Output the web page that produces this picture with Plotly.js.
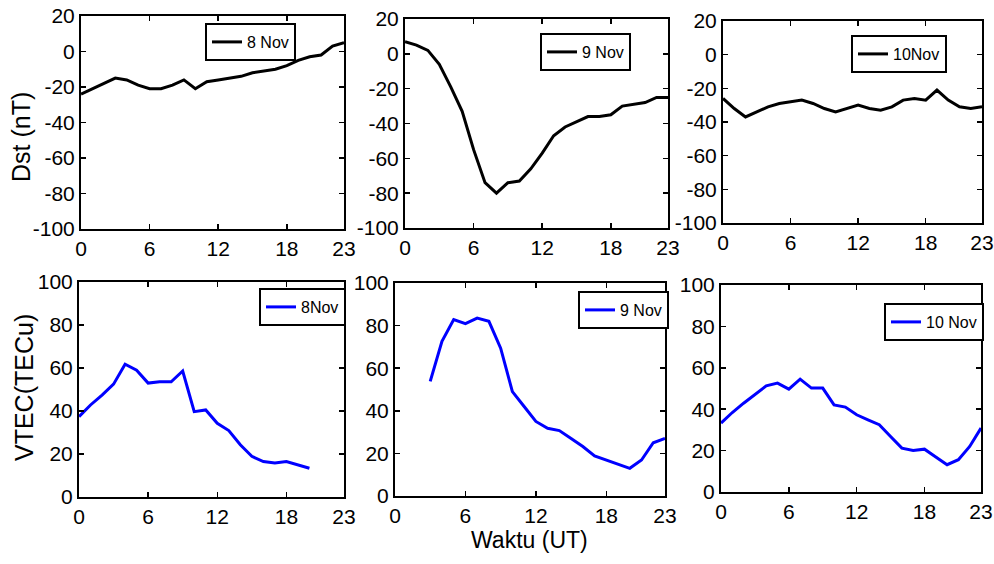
<!DOCTYPE html>
<html><head><meta charset="utf-8">
<script src="https://cdn.plot.ly/plotly-3.0.1.min.js"></script>
<style>html,body{margin:0;padding:0;background:#fff}</style>
</head><body><div id="chart" style="width:994px;height:564px"></div>
<script>
// ---- data ----
const hours = [0,1,2,3,4,5,6,7,8,9,10,11,12,13,14,15,16,17,18,19,20,21,22,23];
const dst8  = [-24,-21,-18,-15,-16,-19,-21,-21,-19,-16,-21,-17,-16,-15,-14,-12,-11,-10,-8,-5,-3,-2,3,5];
const dst9  = [7,5,2,-6,-19,-33,-55,-74,-80,-74,-73,-66,-57,-47,-42,-39,-36,-36,-35,-30,-29,-28,-25,-25];
const dst10 = [-26,-32,-37,-34,-31,-29,-28,-27,-29,-32,-34,-32,-30,-32,-33,-31,-27,-26,-27,-21,-27,-31,-32,-31];
const hoursV8 = [0,1,2,3,4,5,6,7,8,9,10,11,12,13,14,15,16,17,18,19,20];
const vtec8 = [37.4,42.8,47.4,52.5,61.8,59,53,53.6,53.6,58.6,39.7,40.5,34.3,30.9,24.3,18.9,16.5,15.8,16.5,15,13.4];
const hoursV9 = [3,4,5,6,7,8,9,10,11,12,13,14,15,16,17,18,19,20,21,22,23];
const vtec9 = [53.8,72.6,82.8,80.9,83.5,82,69.4,49,42,35,31.8,30.7,27,23.2,18.8,16.9,15,13,16.9,25,27];
const vtec10 = [33.3,38.4,42.9,46.9,51.3,52.6,49.7,54.5,50.2,50.2,42.1,41,37.3,34.9,32.5,26.8,21.2,20.1,20.7,16.9,13.2,15.6,22,30.9];
const legendNames = ['8 Nov','9 Nov','10Nov','8Nov','9 Nov','10 Nov'];
const xTicks = [0,6,12,18,23];
const dstTicks = [-100,-80,-60,-40,-20,0,20];
const vtecTicks = [0,20,40,60,80,100];

// ---- layout helpers ----
const W = 994, H = 564;
const fx = p => p / W;
const fy = p => 1 - p / H;
const FONT = 'Liberation Sans, Arial, sans-serif';

const panels = [
  {x:[81,344], y:[16,229],  leg:[205,23]},
  {x:[405,668],y:[19,228],  leg:[540,33]},
  {x:[723,982],y:[21,223],  leg:[851,35]},
  {x:[79,344], y:[282,497], leg:[259,288]},
  {x:[395,665],y:[283,496], leg:[578,291]},
  {x:[721,981],y:[285,492], leg:[884,303]}
];

const seriesX = [hours, hours, hours, hoursV8, hoursV9, hours];
const seriesY = [dst8, dst9, dst10, vtec8, vtec9, vtec10];

const traces = [];
const layout = {
  width: W, height: H,
  margin: {l:0, r:0, t:0, b:0},
  paper_bgcolor: '#fff', plot_bgcolor: '#fff',
  font: {family: FONT, color: '#000', size: 21},
  annotations: [],
  showlegend: true
};

panels.forEach((p, i) => {
  const n = i + 1;
  const top = i < 3;
  const xa = 'xaxis' + (n === 1 ? '' : n);
  const ya = 'yaxis' + (n === 1 ? '' : n);
  const lg = 'legend' + (n === 1 ? '' : n);
  traces.push({
    x: seriesX[i], y: seriesY[i],
    xaxis: 'x' + (n === 1 ? '' : n), yaxis: 'y' + (n === 1 ? '' : n),
    type: 'scatter', mode: 'lines',
    name: legendNames[i],
    legend: lg,
    line: {color: top ? '#000000' : '#0000ff', width: 3}
  });
  layout[xa] = {
    domain: [fx(p.x[0]), fx(p.x[1])],
    anchor: 'y' + (n === 1 ? '' : n),
    range: [0, 23], tickvals: xTicks, ticktext: xTicks.map(String),
    showgrid: false, zeroline: false,
    showline: true, linecolor: '#000', linewidth: 2, mirror: 'allticks',
    ticks: 'inside', ticklen: 5, tickwidth: 1.5, tickcolor: '#000',
    tickfont: {size: 21, family: FONT, color: '#000'}
  };
  layout[ya] = {
    domain: [fy(p.y[1]), fy(p.y[0])],
    anchor: 'x' + (n === 1 ? '' : n),
    range: top ? [-100, 20] : [0, 100],
    tickvals: top ? dstTicks : vtecTicks,
    ticktext: (top ? dstTicks : vtecTicks).map(String),
    showgrid: false, zeroline: false,
    showline: true, linecolor: '#000', linewidth: 2, mirror: 'allticks',
    ticks: 'inside', ticklen: 5, tickwidth: 1.5, tickcolor: '#000',
    tickfont: {size: 21, family: FONT, color: '#000'}
  };
  layout[lg] = {
    x: fx(p.leg[0]), y: fy(p.leg[1]), xanchor: 'left', yanchor: 'top',
    xref: 'paper', yref: 'paper',
    bgcolor: '#fff', bordercolor: '#000', borderwidth: 2,
    font: {size: 16, family: FONT, color: '#000'},
    itemwidth: 30
  };
});

layout.annotations.push(
  {text: 'Dst (nT)', xref: 'paper', yref: 'paper', x: fx(21), y: fy(137),
   xanchor: 'center', yanchor: 'middle',
   showarrow: false, textangle: -90, font: {size: 25, family: FONT, color: '#000'}},
  {text: 'VTEC(TECu)', xref: 'paper', yref: 'paper', x: fx(24), y: fy(388),
   xanchor: 'center', yanchor: 'middle',
   showarrow: false, textangle: -90, font: {size: 25, family: FONT, color: '#000'}},
  {text: 'Waktu (UT)', xref: 'paper', yref: 'paper', x: fx(529), y: fy(540),
   xanchor: 'center', yanchor: 'middle',
   showarrow: false, font: {size: 23, family: FONT, color: '#000'}}
);

Plotly.newPlot('chart', traces, layout, {displayModeBar: false, staticPlot: true});
</script>
</body></html>
